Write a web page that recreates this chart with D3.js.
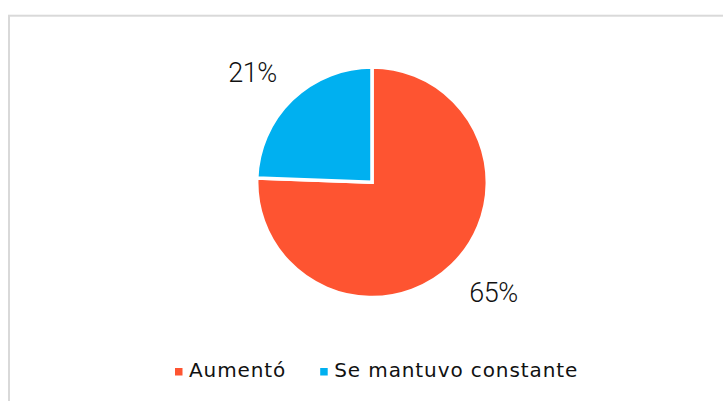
<!DOCTYPE html>
<meta charset="utf-8">
<body style="margin:0;background:#fff">
<script src="https://cdn.jsdelivr.net/npm/d3@7"></script>
<script>
// chart data
var categories = ["Aumentó", "Se mantuvo constante"];
var values = [65, 21];
var labels = ["65%", "21%"];
var colors = ["#FE5431", "#00B0F0"];

var W = 723, H = 401;
var svg = d3.select("body").append("svg")
	.attr("width", W)
	.attr("height", H);

// light frame round the chart area
svg.append("rect")
	.attr("x", 9).attr("y", 15.7)
	.attr("width", W).attr("height", H)
	.attr("fill", "#fff")
	.attr("stroke", "#d9d9d9")
	.attr("stroke-width", 2);

var cx = 372, cy = 182.3, r = 115.3;
var pie = d3.pie().sort(null).value(function(d){ return d; });
var arcs = pie(values);
var arc = d3.arc().innerRadius(0).outerRadius(r);

var g = svg.append("g").attr("transform", "translate(" + cx + "," + cy + ")");
g.selectAll("path")
	.data(arcs)
	.enter()
	.append("path")
	.attr("d", arc)
	.attr("fill", function(d, i){ return colors[i]; })
	.attr("stroke", "#fff")
	.attr("stroke-width", 3.5)
	.attr("stroke-linejoin", "miter");

// data labels sit just outside the slice
var labelArc = d3.arc().innerRadius(r * 1.35).outerRadius(r * 1.35);
var offs = [[13.5, 8], [-11.5, 11.5]];
g.selectAll("text.lbl")
	.data(arcs)
	.enter()
	.append("text")
	.attr("class", "lbl")
	.attr("x", function(d, i){ return labelArc.centroid(d)[0] + offs[i][0]; })
	.attr("y", function(d, i){ return labelArc.centroid(d)[1] + offs[i][1]; })
	.attr("text-anchor", "middle")
	.attr("font-family", "Roboto, sans-serif")
	.attr("font-weight", 300)
	.attr("font-size", 27)
	.attr("letter-spacing", -0.5)
	.attr("fill", "#111")
	.text(function(d, i){ return labels[i]; });

// legend
var legend = svg.append("g").attr("transform", "translate(0,377)");
var lx = 175;
categories.forEach(function(c, i){
	legend.append("rect")
		.attr("x", lx).attr("y", -9)
		.attr("width", 7.5).attr("height", 7.5)
		.attr("fill", colors[i]);
	var t = legend.append("text")
		.attr("x", lx + 14).attr("y", 0)
		.attr("font-family", "'DejaVu Sans', sans-serif")
		.attr("font-size", 20)
		.attr("letter-spacing", 0.9)
		.attr("fill", "#111")
		.text(c);
	lx += 14 + t.node().getComputedTextLength() + 34;
});
</script>
</body>
